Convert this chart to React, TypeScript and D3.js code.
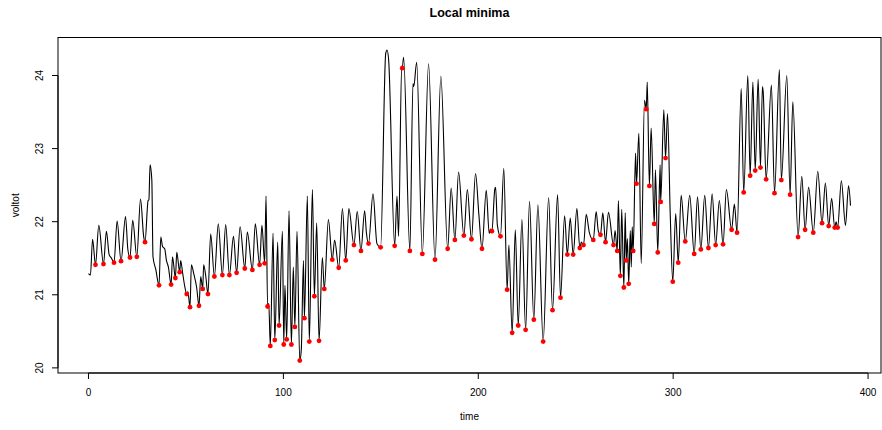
import React from "react";
import * as d3 from "d3";

const time: number[] = [
  0, 1, 2.1, 3.6, 5.3, 7.7, 9.2, 10.6, 11.8, 13.1, 14.7, 16.7, 19.0, 20.2, 21.3, 22.7, 24.8, 26.7, 28.3, 29.0,
  30.6, 31.0, 31.6, 32.5, 33.1, 34.5, 36.2, 37.1, 38.0, 39.1, 40.0, 41.0, 42.4, 43.1, 44.6, 45.3, 46.8, 47.3, 48.3, 49.5,
  50.4, 51.0, 52.1, 52.8, 54.0, 55.5, 56.7, 57.6, 58.6, 59.1, 60.2, 61.3, 62.7, 64.6, 66.6, 68.7, 70.4, 72.3, 74.4, 76.0,
  77.8, 80.2, 81.5, 84.1, 85.6, 87.8, 89.0, 90.4, 91.1, 91.9, 92.5, 93.3, 94.7, 95.6, 97.1, 97.8, 99.5, 100.2, 100.8, 101.7,
  102.9, 104.1, 105.1, 105.9, 107.0, 108.4, 109.2, 110.3, 110.8, 112.3, 113.3, 114.9, 115.9, 117.1, 118.3, 120.0, 121.0, 123.1, 125.1, 126.3,
  128.4, 130.3, 132.0, 133.6, 136.2, 137.9, 139.8, 141.7, 142.6, 143.7, 146.0, 148.0, 149.9, 152.5, 153.2, 154.0, 157.1, 158.3, 159.1, 160.7,
  161.0, 161.7, 164.9, 166.5, 166.9, 168.4, 171.3, 174.5, 177.8, 180.8, 184.3, 186.1, 188.0, 189.9, 192.6, 194.4, 196.5, 198.6, 200.3, 201.9,
  204.1, 205.6, 206.3, 207.0, 208.5, 208.9, 209.8, 211.4, 213.1, 214.8, 215.7, 217.4, 219.0, 220.5, 222.4, 224.3, 226.3, 228.5, 230.6, 233.3,
  236.1, 238.1, 240.7, 242.2, 244.3, 245.7, 247.2, 248.7, 250.6, 252.1, 252.9, 254.0, 255.4, 257.0, 259.0, 260.5, 261.6, 262.7, 263.9, 265.3,
  266.8, 269.4, 270.2, 271.3, 271.9, 272.9, 273.6, 274.7, 275.4, 275.9, 276.5, 277.2, 278.0, 278.5, 279.0, 279.5, 280.7, 281.2, 282.4, 283.6,
  285.3, 286.2, 286.7, 287.8, 288.7, 290.3, 290.9, 292.1, 293.3, 293.6, 295.2, 296.1, 297.1, 298.5, 299.8, 301.3, 302.6, 304.1, 306.2, 308.5,
  310.8, 312.5, 314.2, 316.2, 318.1, 320.0, 321.8, 323.7, 325.6, 327.3, 330.0, 331.4, 332.8, 334.9, 336.2, 338.3, 339.5, 340.9, 342.1, 343.6,
  344.8, 345.8, 346.2, 347.7, 350.4, 352.0, 354.5, 355.5, 358.3, 360.0, 361.4, 364.1, 366.0, 367.7, 369.5, 371.9, 374.2, 376.4, 378.1, 379.8,
  381.3, 382.9, 383.6, 384.4, 386.3, 388.4, 390.0, 391.0,
];

const voltot: number[] = [
  21.29, 21.27, 21.76, 21.41, 21.95, 21.42, 21.87, 21.55, 21.5, 21.44, 22.01, 21.46, 22.07, 21.62, 21.51, 22.02, 21.52, 22.31, 21.8, 21.72,
  22.29, 22.3, 22.78, 22.57, 21.52, 21.35, 21.13, 21.79, 21.66, 21.63, 21.47, 21.38, 21.14, 21.52, 21.23, 21.58, 21.31, 21.47, 21.3, 21.1,
  21.01, 21.04, 20.83, 21.41, 21.29, 21.1, 20.85, 21.25, 21.08, 21.41, 21.25, 21.01, 21.83, 21.25, 21.97, 21.27, 21.96, 21.27, 21.8, 21.3,
  21.93, 21.36, 21.86, 21.34, 21.97, 21.41, 21.95, 21.43, 22.35, 20.84, 20.88, 20.3, 21.84, 20.38, 21.72, 20.58, 21.87, 20.32, 21.13, 20.39,
  22.15, 20.32, 21.38, 20.56, 21.87, 20.1, 20.25, 21.47, 20.68, 22.35, 20.36, 22.44, 20.98, 21.98, 20.37, 21.51, 21.08, 22.03, 21.48, 21.75,
  21.37, 22.18, 21.47, 22.18, 21.68, 22.14, 21.6, 22.15, 21.85, 21.7, 22.38, 21.7, 21.65, 24.3, 24.35, 24.22, 21.67, 22.35, 21.8, 24.13,
  24.1, 24.25, 21.6, 23.89, 23.85, 24.18, 21.56, 24.16, 21.48, 23.99, 21.63, 22.46, 21.75, 22.68, 21.81, 22.44, 21.76, 22.66, 22.1, 21.63,
  22.43, 21.84, 21.9, 21.87, 22.45, 22.47, 21.95, 21.8, 22.73, 21.07, 21.68, 20.48, 21.89, 20.58, 22.03, 20.52, 22.28, 20.66, 22.23, 20.36,
  22.33, 20.79, 22.37, 20.96, 22.08, 21.55, 22.05, 21.55, 22.18, 21.64, 21.72, 21.68, 22.1, 21.85, 21.75, 22.14, 21.87, 21.82, 22.12, 21.72,
  22.13, 21.68, 21.88, 21.6, 22.29, 21.26, 22.17, 21.1, 22.12, 21.47, 21.77, 21.15, 21.88, 21.38, 21.93, 21.6, 22.94, 22.52, 23.21, 21.43,
  23.66, 23.54, 23.91, 22.49, 23.28, 21.97, 22.71, 21.58, 22.78, 22.27, 23.53, 22.87, 23.48, 22.1, 21.18, 22.11, 21.44, 22.36, 21.73, 22.36,
  21.56, 22.34, 21.62, 22.36, 21.64, 22.38, 21.68, 22.29, 21.69, 22.44, 21.89, 22.24, 21.85, 23.82, 22.4, 24.0, 22.63, 23.91, 22.7, 23.95,
  22.74, 23.85, 23.77, 22.58, 23.87, 22.39, 24.08, 22.57, 24.0, 22.37, 23.64, 21.79, 22.62, 21.89, 22.47, 21.85, 22.69, 21.98, 22.53, 21.94,
  22.32, 21.92, 22.0, 21.92, 22.56, 21.95, 22.49, 22.22,
];

// 1 = point flagged as a local minimum (red)
const isMinimum: number[] = [
  0, 0, 0, 1, 0, 1, 0, 0, 0, 1, 0, 1, 0, 0, 1, 0, 1, 0, 0, 1,
  0, 0, 0, 0, 0, 0, 1, 0, 0, 0, 0, 0, 1, 0, 1, 0, 1, 0, 0, 0,
  1, 0, 1, 0, 0, 0, 1, 0, 1, 0, 0, 1, 0, 1, 0, 1, 0, 1, 0, 1,
  0, 1, 0, 1, 0, 1, 0, 1, 0, 1, 0, 1, 0, 1, 0, 1, 0, 1, 0, 1,
  0, 1, 0, 1, 0, 1, 0, 0, 1, 0, 1, 0, 1, 0, 1, 0, 1, 0, 1, 0,
  1, 0, 1, 0, 1, 0, 1, 0, 0, 1, 0, 0, 1, 0, 0, 0, 1, 0, 0, 0,
  1, 0, 1, 0, 0, 0, 1, 0, 1, 0, 1, 0, 1, 0, 1, 0, 1, 0, 0, 1,
  0, 0, 0, 1, 0, 0, 0, 1, 0, 1, 0, 1, 0, 1, 0, 1, 0, 1, 0, 1,
  0, 1, 0, 1, 0, 1, 0, 1, 0, 1, 0, 1, 0, 0, 1, 0, 0, 1, 0, 1,
  0, 1, 0, 1, 0, 1, 0, 1, 0, 1, 0, 1, 0, 0, 0, 1, 0, 1, 0, 0,
  0, 1, 0, 1, 0, 1, 0, 1, 0, 1, 0, 1, 0, 0, 1, 0, 1, 0, 1, 0,
  1, 0, 1, 0, 1, 0, 1, 0, 1, 0, 1, 0, 1, 0, 1, 0, 1, 0, 1, 0,
  1, 0, 0, 1, 0, 1, 0, 1, 0, 1, 0, 1, 0, 1, 0, 1, 0, 1, 0, 1,
  0, 1, 0, 1, 0, 0, 0, 0,
];

const xTicks: number[] = [0, 100, 200, 300, 400];
const yTicks: number[] = [20, 21, 22, 23, 24];

const title = "Local minima";
const xLabel = "time";
const yLabel = "voltot";

const W = 882;
const H = 430;
const plot = { left: 58, right: 881, top: 37.5, bottom: 373 };
const FONT = "'Liberation Sans', Arial, Helvetica, sans-serif";

function ext(domain: [number, number]): [number, number] {
  const r = domain[1] - domain[0];
  return [domain[0] - 0.04 * r, domain[1] + 0.04 * r];
}

export default function App() {
  const data = time.map((t, i) => ({ t, v: voltot[i], m: isMinimum[i] === 1 }));
  const x = d3.scaleLinear().domain(ext(d3.extent(time) as [number, number])).range([plot.left, plot.right]);
  const y = d3.scaleLinear().domain(ext(d3.extent(voltot) as [number, number])).range([plot.bottom, plot.top]);
  const line = d3
    .line<{ t: number; v: number }>()
    .x((d) => x(d.t))
    .y((d) => y(d.v))
    .curve(d3.curveMonotoneX);

  const cx = (plot.left + plot.right) / 2;
  const cy = (plot.top + plot.bottom) / 2;

  return (
    <svg
      width={W}
      height={H}
      style={{ position: "absolute", left: 0, top: 0, background: "#fff" }}
      fontFamily={FONT}
    >
      <rect x={0} y={0} width={W} height={H} fill="#fff" />
      <path d={line(data) || ""} fill="none" stroke="#000" strokeWidth={1.1} />
      {data
        .filter((d) => d.m)
        .map((d, i) => (
          <circle key={i} cx={x(d.t)} cy={y(d.v)} r={2.4} fill="#ff0000" />
        ))}
      <rect
        x={plot.left}
        y={plot.top}
        width={plot.right - plot.left}
        height={plot.bottom - plot.top}
        fill="none"
        stroke="#000"
        strokeWidth={1}
      />
      {/* x axis */}
      <line x1={x(xTicks[0])} x2={x(xTicks[xTicks.length - 1])} y1={plot.bottom} y2={plot.bottom} stroke="#000" />
      {xTicks.map((t) => (
        <g key={t}>
          <line x1={x(t)} x2={x(t)} y1={plot.bottom} y2={plot.bottom + 6} stroke="#000" />
          <text x={x(t)} y={396} textAnchor="middle" fontSize={10} fill="#000">
            {t}
          </text>
        </g>
      ))}
      {/* y axis */}
      <line x1={plot.left} x2={plot.left} y1={y(yTicks[0])} y2={y(yTicks[yTicks.length - 1])} stroke="#000" />
      {yTicks.map((t) => (
        <g key={t}>
          <line x1={plot.left} x2={plot.left - 6} y1={y(t)} y2={y(t)} stroke="#000" />
          <text
            transform={`translate(43,${y(t)}) rotate(-90)`}
            textAnchor="middle"
            fontSize={10}
            fill="#000"
          >
            {t}
          </text>
        </g>
      ))}
      <text x={cx} y={16.5} textAnchor="middle" fontSize={12.5} fontWeight="bold" fill="#000">
        {title}
      </text>
      <text x={cx} y={420} textAnchor="middle" fontSize={10} fill="#000">
        {xLabel}
      </text>
      <text transform={`translate(19,${cy}) rotate(-90)`} textAnchor="middle" fontSize={10} fill="#000">
        {yLabel}
      </text>
    </svg>
  );
}
